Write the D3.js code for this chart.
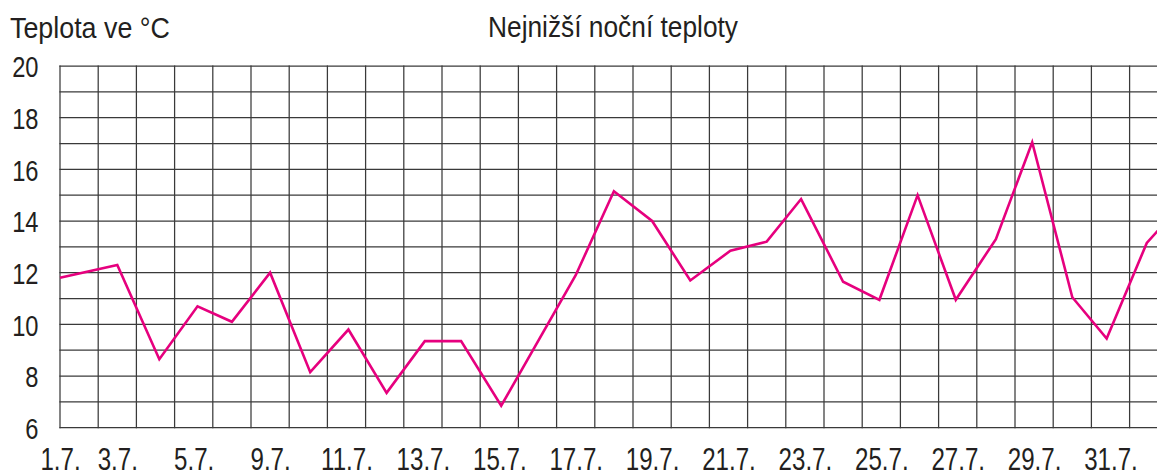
<!DOCTYPE html>
<html>
<head>
<meta charset="utf-8">
<script src="https://cdn.jsdelivr.net/npm/d3@7"></script>
<style>
  html, body { margin: 0; padding: 0; background: #fff; overflow: hidden; }
  svg { display: block; }
  text { font-family: "Liberation Sans", Arial, sans-serif; fill: #231f20; }
</style>
</head>
<body>
<svg id="chart" width="1157" height="472"></svg>
<script>
// Horizontal axis is measured in grid columns (one column per day slot).
const tickLabels = ["1.7.", "3.7.", "5.7.", "9.7.", "11.7.", "13.7.", "15.7.", "17.7.",
                    "19.7.", "21.7.", "23.7.", "25.7.", "27.7.", "29.7.", "31.7."];
const tickPos    = [0, 1.5, 3.5, 5.5, 7.5, 9.5, 11.5, 13.5, 15.5, 17.5, 19.5, 21.5, 23.5, 25.5, 27.5];

// Nightly minimum readings: position on the axis and temperature in °C
const readingPos = [0, 1.5, 2.6, 3.6, 4.5, 5.5, 6.55, 7.55, 8.55, 9.55, 10.5, 11.55,
                    13.5, 14.5, 15.5, 16.5, 17.55, 18.5, 19.4, 20.5, 21.45, 22.45,
                    23.45, 24.5, 25.45, 26.5, 27.4, 28.45, 29.45];
const minTemps   = [11.8, 12.3, 8.65, 10.7, 10.1, 12.0, 8.15, 9.8, 7.35, 9.35, 9.35, 6.85,
                    11.9, 15.15, 14.0, 11.7, 12.85, 13.2, 14.85, 11.65, 10.95, 15.0,
                    10.95, 13.3, 17.05, 11.05, 9.45, 13.15, 14.8];

const yTicks = [6, 8, 10, 12, 14, 16, 18, 20];

const W = 1157, H = 472;
const plotLeft = 60, plotTop = 66, plotBottom = 427.7, colW = 38.2;
const narrow = 0.79;   // horizontal squeeze for the condensed lettering

const svg = d3.select("#chart");

const x = d3.scaleLinear().domain([0, 29]).range([plotLeft, plotLeft + 29 * colW]);
const y = d3.scaleLinear().domain([6, 20]).range([plotBottom, plotTop]);

// grid: horizontal line every degree, vertical line every column
const grid = svg.append("g").attr("stroke", "#3a3a3a").attr("stroke-width", 1.25);
grid.selectAll("line.h").data(d3.range(6, 21)).join("line")
  .attr("class", "h")
  .attr("x1", x(0) - 0.6).attr("x2", W)
  .attr("y1", d => y(d)).attr("y2", d => y(d));
grid.selectAll("line.v").data(d3.range(0, 29)).join("line")
  .attr("class", "v")
  .attr("x1", d => x(d)).attr("x2", d => x(d))
  .attr("y1", y(20) - 0.6).attr("y2", y(6) + 0.6);

// y axis tick labels
const yAxis = d3.axisLeft(y).tickValues(yTicks).tickSize(0).tickPadding(0).tickFormat(d3.format("d"));
svg.append("g").attr("transform", `translate(${plotLeft},0)`).call(yAxis)
  .attr("font-family", null).attr("font-size", null)
  .call(g => g.select(".domain").remove())
  .call(g => g.selectAll("text")
    .attr("font-size", 30).attr("fill", "#231f20")
    .attr("x", 0).attr("dy", "0.36em")
    .attr("transform", `translate(-21.5,0) scale(${narrow},1)`));

// x axis tick labels
const xAxis = d3.axisBottom(x).tickValues(tickPos).tickSize(0).tickPadding(0)
  .tickFormat((d, i) => tickLabels[i]);
svg.append("g").attr("transform", `translate(0,${plotBottom})`).call(xAxis)
  .attr("font-family", null).attr("font-size", null)
  .call(g => g.select(".domain").remove())
  .call(g => g.selectAll("text")
    .attr("font-size", 30.5).attr("fill", "#231f20")
    .attr("y", 0).attr("dy", null)
    .attr("transform", `translate(0,42.5) scale(${narrow},1)`));

// temperature line
const line = d3.line().x((d, i) => x(readingPos[i])).y(d => y(d));
svg.append("path").datum(minTemps)
  .attr("d", line)
  .attr("fill", "none")
  .attr("stroke", "#e6007e")
  .attr("stroke-width", 2.6)
  .attr("stroke-linejoin", "miter");

// titles
svg.append("text").attr("font-size", 30)
  .attr("transform", "translate(10,38.3) scale(0.895,1)")
  .text("Teplota ve °C");
svg.append("text").attr("font-size", 30)
  .attr("text-anchor", "middle")
  .attr("transform", "translate(613,36.7) scale(0.877,1)")
  .text("Nejnižší noční teploty");
</script>
</body>
</html>
